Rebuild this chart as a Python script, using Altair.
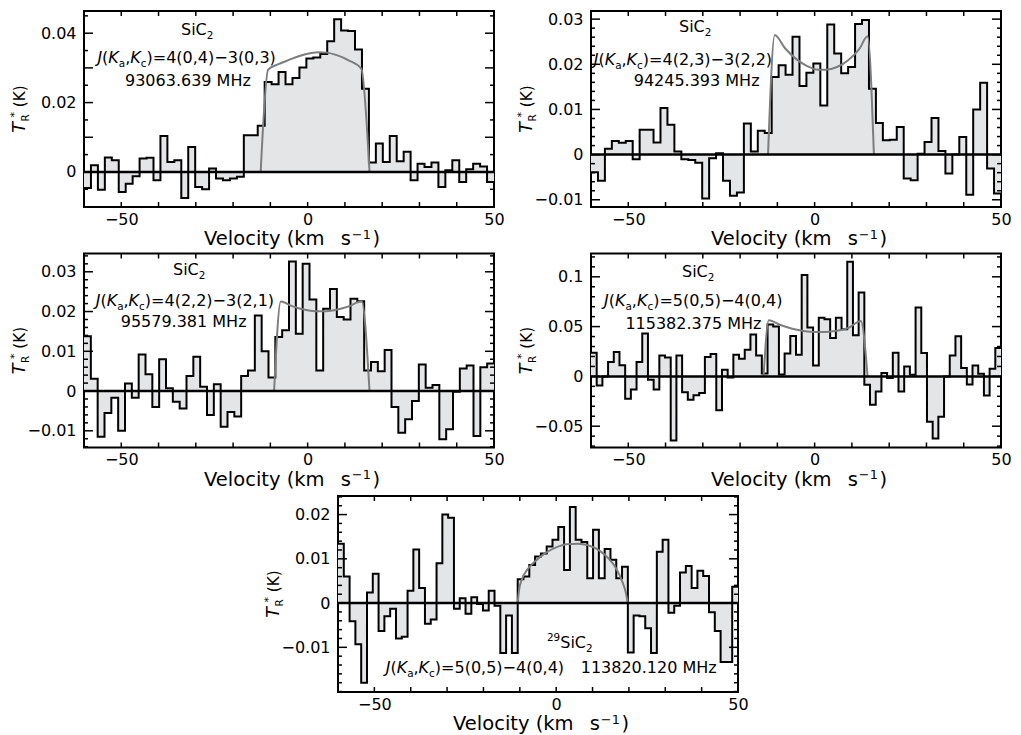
import altair as alt
import numpy as np
import pandas as pd

FONT = "DejaVu Sans"
FILL = "#e4e5e7"
FITC = "#7d7d7d"

# ---------------- data (antenna temperature per channel, K) ----------------
p1_t = [-0.0046, 0.0019, -0.0051, 0.0042, 0.0034, -0.0058, -0.0034, -0.0012, 0.0039, 0.0041,
        -0.0024, 0.0104, 0.0029, 0.0034, -0.0075, 0.0072, -0.0043, -0.0050, 0.0010, -0.0019,
        -0.0024, -0.0019, -0.0014, 0.0106, 0.0106, 0.0133, 0.0259, 0.0253, 0.0288, 0.0253,
        0.0271, 0.0301, 0.0327, 0.0330, 0.0340, 0.0377, 0.0440, 0.0408, 0.0406, 0.0353,
        0.0240, 0.0027, 0.0082, 0.0029, 0.0104, 0.0031, 0.0058, -0.0024, 0.0024, 0.0014,
        0.0027, -0.0043, 0.0005, 0.0034, -0.0029, 0.0008, 0.0024, 0.0016, -0.0029]
p1_fit_v = [-12.6, -10.6, -8, -5, -2, 1, 3, 5, 8, 11, 14.4, 16.6]
p1_fit_t = [0, 0.0295, 0.0310, 0.0323, 0.0335, 0.0343, 0.0345, 0.0344, 0.0336, 0.0322, 0.0298, 0]

p2_t = [-0.0039, -0.0058, 0.0013, 0.0030, 0.0026, 0.0030, -0.0010, 0.0055, 0.0055, 0.0027,
        0.0103, 0.0066, 0.0007, -0.0010, -0.0012, -0.0018, -0.0097, -0.0008, 0.0003, -0.0058,
        -0.0091, -0.0084, 0.0069, 0.0007, 0.0053, 0.0048, 0.0172, 0.0198, 0.0177, 0.0261,
        0.0152, 0.0181, 0.0202, 0.0109, 0.0288, 0.0224, 0.0180, 0.0194, 0.0289, 0.0298,
        0.0146, 0.0070, 0.0032, 0.0033, 0.0061, -0.0053, -0.0057, 0.0002, 0.0028, 0.0081,
        0.0008, -0.0042, 0.0000, 0.0039, -0.0089, 0.0100, 0.0159, -0.0031, -0.0086]
p2_fit_v = [-12.5, -10.7, -8, -5, -2, 1, 3, 6, 9, 12, 14.2, 15.9]
p2_fit_t = [0, 0.0265, 0.0236, 0.0212, 0.0196, 0.0188, 0.0188, 0.0194, 0.0209, 0.0234, 0.0262, 0]

p3_t = [0.0138, 0.0031, -0.0115, -0.0055, -0.0017, -0.0100, 0.0019, -0.0017, 0.0092, 0.0042,
        -0.0040, 0.0080, 0.0007, -0.0027, -0.0044, 0.0038, 0.0086, 0.0011, -0.0060, 0.0017,
        -0.0090, -0.0053, -0.0064, 0.0038, 0.0052, 0.0190, 0.0100, 0.0034, 0.0136, 0.0153,
        0.0326, 0.0144, 0.0320, 0.0230, 0.0052, 0.0207, 0.0257, 0.0186, 0.0180, 0.0232,
        0.0226, 0.0052, 0.0073, 0.0050, 0.0103, -0.0040, -0.0105, -0.0071, -0.0025, 0.0067,
        0.0008, 0.0015, -0.0121, -0.0096, -0.0002, 0.0057, 0.0064, -0.0113, 0.0060, 0.0069]
p3_fit_v = [-9.0, -7.2, -4, -1, 2, 5, 8, 11, 14.5, 16.6]
p3_fit_t = [0, 0.0225, 0.0213, 0.0205, 0.0201, 0.0201, 0.0205, 0.0213, 0.0226, 0]

p4_t = [0.0238, -0.0091, 0.0000, 0.0144, 0.0245, 0.0111, -0.0225, -0.0131, 0.0144, 0.0430,
        -0.0034, -0.0131, 0.0211, 0.0190, -0.0644, 0.0211, -0.0158, -0.0235, -0.0190, -0.0168,
        0.0195, 0.0225, -0.0340, 0.0067, -0.0010, 0.0218, 0.0178, 0.0268, 0.0420, 0.0211,
        0.0030, 0.0520, 0.0500, 0.0020, 0.0230, 0.0406, 0.0218, 0.1017, 0.0490, 0.0110,
        0.0590, 0.0574, 0.0386, 0.0590, 0.0473, 0.1151, 0.0413, 0.0842, -0.0084, -0.0285,
        -0.0151, 0.0034, -0.0017, 0.0238, -0.0151, 0.0100, 0.0017, 0.0691, 0.0235, -0.0456,
        -0.0624, -0.0406, 0.0000, 0.0211, 0.0403, 0.0084, -0.0081, 0.0110, 0.0027, -0.0191,
        0.0077, 0.0285]
p4_fit_v = [-13.7, -12.3, -9, -6, -3, 0, 3, 6, 9, 12.4, 14.2]
p4_fit_t = [0, 0.0564, 0.0513, 0.0479, 0.0456, 0.0446, 0.0447, 0.0458, 0.0486, 0.0557, 0]

p5_t = [0.0134, 0.0060, -0.0041, -0.0093, -0.0180, 0.0024, 0.0066, -0.0063, -0.0030, -0.0013,
        -0.0080, -0.0076, 0.0028, 0.0121, 0.0034, -0.0047, -0.0037, 0.0090, 0.0200, 0.0193,
        -0.0013, 0.0011, -0.0024, 0.0013, -0.0002, -0.0017, 0.0028, -0.0006, -0.0113, -0.0028,
        -0.0113, 0.0054, 0.0060, 0.0086, 0.0105, 0.0112, 0.0128, 0.0143, 0.0172, 0.0075,
        0.0217, 0.0143, 0.0138, 0.0056, 0.0166, 0.0056, 0.0122, 0.0098, 0.0056, 0.0082,
        -0.0112, -0.0028, -0.0030, -0.0057, -0.0113, 0.0116, 0.0143, -0.0022, -0.0006, 0.0069,
        0.0084, 0.0034, 0.0073, 0.0061, -0.0021, -0.0063, -0.0133, -0.0133, 0.0037]
p5_fit_v = [-10.6, -10.2, -9.5, -8, -6, -3, 0, 3, 6, 9, 12, 14.5, 16.5, 18, 19.2, 19.7]
p5_fit_t = [0, 0.0030, 0.0052, 0.0075, 0.0093, 0.0113, 0.0126, 0.0133, 0.0134, 0.0130,
            0.0118, 0.0100, 0.0078, 0.0052, 0.0022, 0]

X_LABELS = [-50, 0, 50]
X_TICKS = [-50, -40, -30, -20, -10, 0, 10, 20, 30, 40]
LABEL_EXPR = "replace(toString(datum.value), '-', '\u2212')"

# DejaVu Sans advance widths (em)
ADV = {" ": 0.318, "(": 0.390, ")": 0.390, ",": 0.318, ".": 0.318, "=": 0.838,
       "\u2212": 0.838, "J": 0.295, "K": 0.656, "a": 0.613, "c": 0.550, "S": 0.635,
       "i": 0.278, "C": 0.698, "M": 0.863, "H": 0.752, "z": 0.525, "R": 0.695,
       "T": 0.611, "*": 0.500, "V": 0.684, "e": 0.615, "l": 0.278, "o": 0.612,
       "t": 0.392, "y": 0.592, "k": 0.579, "m": 0.974, "s": 0.521}
for d in "0123456789":
    ADV[d] = 0.636

ONE = pd.DataFrame({"a": [0]})


def text_width(s, fs):
    return sum(ADV.get(ch, 0.6) for ch in s) * fs


def run(segs, x0, y0, base, angle=0):
    """segs: (text, italic, scale, shift_em, pre_em)"""
    layers = []
    off = 0.0
    for s, italic, scale, shift, pre in segs:
        fs = base * scale
        off += pre * base
        if angle == 0:
            x, y = x0 + off, y0 + shift * base
        else:
            x, y = x0 + shift * base, y0 - off
        layers.append(
            alt.Chart(ONE).mark_text(
                align="left", baseline="alphabetic", font=FONT, fontSize=fs,
                fontStyle="italic" if italic else "normal", angle=angle, color="black"
            ).encode(x=alt.value(x), y=alt.value(y), text=alt.value(s))
        )
        off += text_width(s, fs)
    return layers


def seg_len(segs, base):
    return sum(text_width(s, base * sc) + pre * base for s, it, sc, sh, pre in segs)


SUB, SUP = 0.25, -0.42


def sic(iso=False):
    segs = []
    if iso:
        segs.append(("29", False, 0.65, SUP, 0))
    segs += [("SiC", False, 1, 0, 0), ("2", False, 0.65, SUB, 0)]
    return segs


def jline(rest):
    return [("J", True, 1, 0, 0), ("(", False, 1, 0, 0), ("K", True, 1, 0, 0),
            ("a", False, 0.65, SUB, 0), (",", False, 1, 0, 0), ("K", True, 1, 0, 0),
            ("c", False, 0.65, SUB, 0), (")=" + rest, False, 1, 0, 0)]


YT_SEGS = [("T", True, 1.1, 0, 0), ("R", False, 0.65, SUB, 0.02), ("*", False, 0.7, SUP, -0.2),
           ("(K)", False, 0.95, 0, 0.3)]
XT_SEGS = [("Velocity (km", False, 1, 0, 0), ("s", False, 1, 0, 0.75),
           ("\u22121", False, 0.66, -0.32, 0.05), (")", False, 1, 0, 0.08)]
XT_BASE = 19.5
ANN_BASE = 16


def spectrum_df(vals):
    n = len(vals)
    w = 110.0 / n
    v = [-60 + i * w for i in range(n)] + [50.0]
    t = list(vals) + [vals[-1]]
    return pd.DataFrame({"v": v, "t": t, "z": [0.0] * (n + 1)})


def panel(vals, fit_v, fit_t, ydom, ylab, ylong, yshort, W, H, annots):
    xs = alt.Scale(domain=[-60, 50], nice=False, zero=False)
    ys = alt.Scale(domain=ydom, nice=False, zero=False)
    xax = alt.Axis(values=X_LABELS, labelExpr=LABEL_EXPR, title=None, labelPadding=4,
                   labelFlush=False, labelOverlap=False)
    yax = alt.Axis(values=ylab, labelExpr=LABEL_EXPR, title=None, labelPadding=8,
                   labelFlush=False, labelOverlap=False)
    X = alt.X("v:Q", scale=xs, axis=xax)
    Y = alt.Y("t:Q", scale=ys, axis=yax)
    spec = spectrum_df(vals)
    layers = [
        alt.Chart(spec).mark_area(interpolate="step-after", color=FILL).encode(x=X, y=Y, y2="z:Q"),
        alt.Chart(spec).mark_line(interpolate="step-after", color="black", strokeWidth=2).encode(x=X, y=Y),
        alt.Chart(pd.DataFrame({"v": fit_v, "t": fit_t})).mark_line(
            interpolate="monotone", color=FITC, strokeWidth=2).encode(x=X, y=Y),
        alt.Chart(pd.DataFrame({"t": [0.0]})).mark_rule(color="black", strokeWidth=2.5).encode(y=Y),
    ]
    xt = pd.DataFrame({"v": X_TICKS})
    layers.append(alt.Chart(xt).mark_rule(color="black", strokeWidth=1.5).encode(
        x=X, y=alt.value(0), y2=alt.value(5)))
    layers.append(alt.Chart(xt).mark_rule(color="black", strokeWidth=1.5).encode(
        x=X, y=alt.value(H), y2=alt.value(H - 5)))
    for vals_, L in ((ylong, 9), (yshort, 4)):
        df = pd.DataFrame({"t": vals_})
        layers.append(alt.Chart(df).mark_rule(color="black", strokeWidth=1.5).encode(
            y=Y, x=alt.value(0), x2=alt.value(L)))
        layers.append(alt.Chart(df).mark_rule(color="black", strokeWidth=1.5).encode(
            y=Y, x=alt.value(W), x2=alt.value(W - L)))
    for segs, x0, y0 in annots:
        layers += run(segs, x0, y0, ANN_BASE)
    # y-axis title (rotated, composed)
    ybase = 16
    L = seg_len(YT_SEGS, ybase)
    layers += run(YT_SEGS, -59, H / 2 + L / 2, ybase, angle=270)
    # x-axis title (composed)
    LX = seg_len(XT_SEGS, XT_BASE)
    layers += run(XT_SEGS, W / 2 - LX / 2 + 3, H + 38, XT_BASE)
    return alt.layer(*layers).properties(width=W, height=H)


def minor(lo, hi, step, skip):
    out = []
    for v in np.arange(lo, hi + 1e-9, step):
        v = round(float(v), 4)
        if all(abs(v - s) > 1e-6 for s in skip):
            out.append(v)
    return out


PW = 410
p1 = panel(p1_t, p1_fit_v, p1_fit_t, [-0.0101, 0.0464], [0, 0.02, 0.04],
           [0, 0.01, 0.02, 0.03, 0.04], minor(-0.005, 0.045, 0.005, [0, 0.01, 0.02, 0.03, 0.04]),
           PW, 196,
           [(sic(), 97, 24), (jline("4(0,4)\u22123(0,3)"), 13.4, 52), ([("93063.639 MHz", False, 1, 0, 0)], 41, 74.5)])
p2 = panel(p2_t, p2_fit_v, p2_fit_t, [-0.0116, 0.0318], [-0.01, 0, 0.01, 0.02, 0.03],
           [-0.01, 0, 0.01, 0.02, 0.03], minor(-0.01, 0.03, 0.002, [-0.01, 0, 0.01, 0.02, 0.03]),
           PW, 196,
           [(sic(), 88, 20.5), (jline("4(2,3)\u22123(2,2)"), 2.7, 54), ([("94245.393 MHz", False, 1, 0, 0)], 42.7, 74.5)])
p3 = panel(p3_t, p3_fit_v, p3_fit_t, [-0.0142, 0.0346], [-0.01, 0, 0.01, 0.02, 0.03],
           [-0.01, 0, 0.01, 0.02, 0.03], minor(-0.014, 0.034, 0.002, [-0.01, 0, 0.01, 0.02, 0.03]),
           PW, 194,
           [(sic(), 89, 21.5), (jline("4(2,2)\u22123(2,1)"), 11.7, 52), ([("95579.381 MHz", False, 1, 0, 0)], 36.7, 73.3)])
p4 = panel(p4_t, p4_fit_v, p4_fit_t, [-0.0714, 0.1234], [-0.05, 0, 0.05, 0.1],
           [-0.05, 0, 0.05, 0.1], minor(-0.07, 0.12, 0.01, [-0.05, 0, 0.05, 0.1]),
           PW, 194,
           [(sic(), 91, 23), (jline("5(0,5)\u22124(0,4)"), 13, 52), ([("115382.375 MHz", False, 1, 0, 0)], 34.4, 75)])
p5 = panel(p5_t, p5_fit_v, p5_fit_t, [-0.0201, 0.0242], [-0.01, 0, 0.01, 0.02],
           [-0.01, 0, 0.01, 0.02], minor(-0.02, 0.024, 0.002, [-0.01, 0, 0.01, 0.02]),
           400, 196,
           [(sic(iso=True), 209, 152), (jline("5(0,5)\u22124(0,4)"), 47.7, 177),
            ([("113820.120 MHz", False, 1, 0, 0)], 242.7, 177)])

spacer = alt.Chart(ONE).mark_point(opacity=0).encode(
    x=alt.value(0), y=alt.value(0)).properties(width=177, height=10,
                                              view=alt.ViewBackground(stroke="transparent"))

row1 = alt.hconcat(p1, p2, spacing=9)
row2 = alt.hconcat(p3, p4, spacing=9)
row3 = alt.hconcat(spacer, p5, spacing=0)

chart = alt.vconcat(row1, row2, row3, spacing=1.5).properties(
    padding={"left": 0, "top": 1, "right": 0, "bottom": 0}
).configure_view(
    stroke="black", strokeWidth=2
).configure_axis(
    labelFont=FONT, labelFontSize=16, labelColor="black",
    domain=False, ticks=False, grid=False
)

chart.save("out.html", embed_options={"renderer": "svg", "actions": False})
